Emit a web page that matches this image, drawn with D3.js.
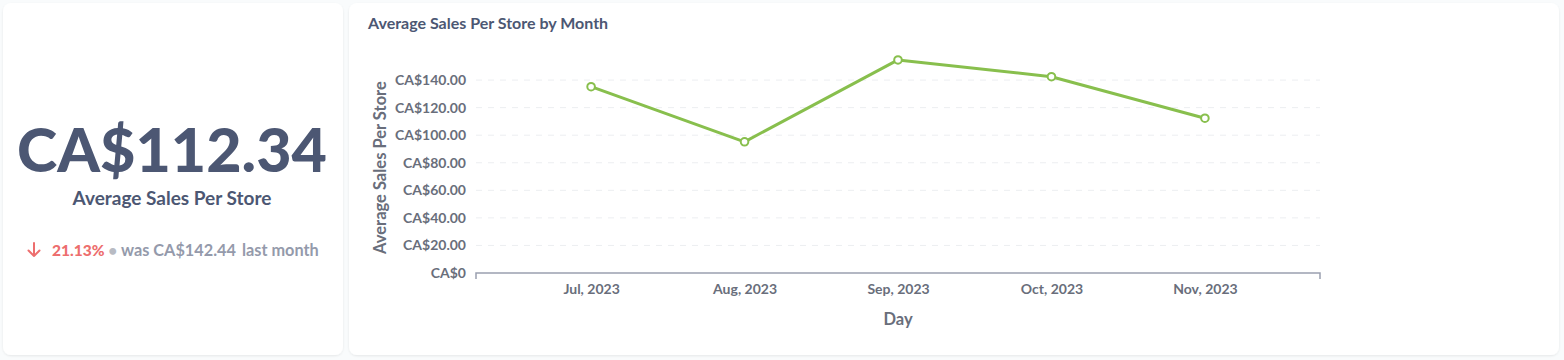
<!DOCTYPE html>
<html>
<head>
<meta charset="utf-8">
<script src="https://cdn.jsdelivr.net/npm/d3@7"></script>
<style>
  html, body { margin: 0; padding: 0; background: #f9fbfc; }
  body { width: 1564px; height: 360px; overflow: hidden; font-family: Lato, "Noto Sans", sans-serif; }
  svg { display: block; }
</style>
</head>
<body>
<svg id="root" width="1564" height="360"></svg>
<script>
const categories = ["Jul, 2023", "Aug, 2023", "Sep, 2023", "Oct, 2023", "Nov, 2023"];
const salesValues = [135.2, 95.2, 154.6, 142.44, 112.34];
const yTickValues = [0, 20, 40, 60, 80, 100, 120, 140];
const yTickLabels = ["CA$0", "CA$20.00", "CA$40.00", "CA$60.00", "CA$80.00", "CA$100.00", "CA$120.00", "CA$140.00"];
const scalarValue = "CA$112.34";
const scalarTitle = "Average Sales Per Store";
const changePct = "21.13%";
const previousValue = "was CA$142.44";

(function () {
const svg = d3.select("#root");
const defs = svg.append("defs");
const f = defs.append("filter").attr("id", "sh").attr("x", "-5%").attr("y", "-5%").attr("width", "110%").attr("height", "110%");
f.append("feDropShadow").attr("dx", 0).attr("dy", 1).attr("stdDeviation", 1.2).attr("flood-color", "#000").attr("flood-opacity", 0.08);

// cards
svg.append("rect").attr("x", 3).attr("y", 3).attr("width", 340).attr("height", 352).attr("rx", 8).attr("fill", "#fff").attr("filter", "url(#sh)");
svg.append("rect").attr("x", 349).attr("y", 3).attr("width", 1210).attr("height", 352).attr("rx", 8).attr("fill", "#fff").attr("filter", "url(#sh)");

// scalar card
svg.append("text").attr("x", 172).attr("y", 172).attr("text-anchor", "middle")
  .attr("font-size", 61).attr("font-weight", 900).attr("fill", "#4c5773").text(scalarValue);
svg.append("text").attr("x", 172).attr("y", 204.5).attr("text-anchor", "middle")
  .attr("font-size", 19).attr("font-weight", 700).attr("fill", "#4c5773").text(scalarTitle);

// change row
svg.append("path").attr("d", "M34,243V256M28.5,250.5L34,256L39.5,250.5")
  .attr("fill", "none").attr("stroke", "#ed6e6e").attr("stroke-width", 2).attr("stroke-linecap", "round").attr("stroke-linejoin", "round");
const ch = svg.append("text").attr("x", 52).attr("y", 255.5).attr("font-size", 15.5);
ch.append("tspan").attr("fill", "#ed6e6e").attr("font-weight", 900).text(changePct);
ch.append("tspan").attr("fill", "#b8bbc3").attr("font-weight", 700).text(" • ");
ch.append("tspan").attr("fill", "#949aab").attr("font-weight", 700).attr("font-size", 16.3).text(previousValue);
ch.append("tspan").attr("fill", "#949aab").attr("font-weight", 700).attr("font-size", 16.3).attr("dx", 6).text("last month");

// line chart
svg.append("text").attr("x", 368).attr("y", 28.5).attr("font-size", 16).attr("font-weight", 700).attr("fill", "#4c5773")
  .text("Average Sales Per Store by Month");

const pl = 476, pr = 1320, pt = 52.5, pb = 273;
const x = d3.scalePoint().domain(categories).range([pl, pr]).padding(0.75);
const y = d3.scaleLinear().domain([0, 160]).range([pb, pt]);

const g = svg.append("g");
// grid
g.selectAll("line.grid").data(yTickValues.filter(v => v > 0)).join("line")
  .attr("x1", pl).attr("x2", pr).attr("y1", d => y(d)).attr("y2", d => y(d))
  .attr("stroke", "#eceef1").attr("stroke-dasharray", "6,6").attr("stroke-width", 1);

// y axis labels
const yAxis = d3.axisLeft(y).tickValues(yTickValues).tickFormat((d, i) => yTickLabels[i]).tickSize(0).tickPadding(10);
const ya = g.append("g").attr("transform", `translate(${pl},0)`).call(yAxis);
ya.select(".domain").remove();
ya.selectAll("text").attr("font-family", "Lato, sans-serif").attr("font-size", 14).attr("font-weight", 700).attr("fill", "#696e7b");

// x axis
const xAxis = d3.axisBottom(x).tickSize(0).tickPadding(11);
const xa = g.append("g").attr("transform", `translate(0,${pb})`).call(xAxis);
xa.select(".domain").remove();
xa.selectAll("text").attr("font-family", "Lato, sans-serif").attr("font-size", 14).attr("font-weight", 700).attr("fill", "#696e7b");
g.append("path").attr("d", `M${pl},${pb + 6}V${pb}H${pr}V${pb + 6}`)
  .attr("fill", "none").attr("stroke", "#9aa0b0").attr("stroke-width", 1.5);

// axis titles
svg.append("text").attr("transform", `translate(386,${(y(0) + y(140)) / 2 - 9}) rotate(-90)`).attr("text-anchor", "middle")
  .attr("font-size", 16.5).attr("font-weight", 700).attr("fill", "#696e7b").text("Average Sales Per Store");
svg.append("text").attr("x", (pl + pr) / 2).attr("y", 325).attr("text-anchor", "middle")
  .attr("font-size", 16.5).attr("font-weight", 700).attr("fill", "#696e7b").text("Day");

// line
const data = categories.map((c, i) => ({ c, v: salesValues[i] }));
g.append("path").datum(data).attr("fill", "none").attr("stroke", "#88bf4d").attr("stroke-width", 3)
  .attr("stroke-linejoin", "round")
  .attr("d", d3.line().x(d => x(d.c)).y(d => y(d.v)));
g.selectAll("circle").data(data).join("circle")
  .attr("cx", d => x(d.c)).attr("cy", d => y(d.v)).attr("r", 3.8)
  .attr("fill", "#fff").attr("stroke", "#88bf4d").attr("stroke-width", 2);
})();
</script>
</body>
</html>
